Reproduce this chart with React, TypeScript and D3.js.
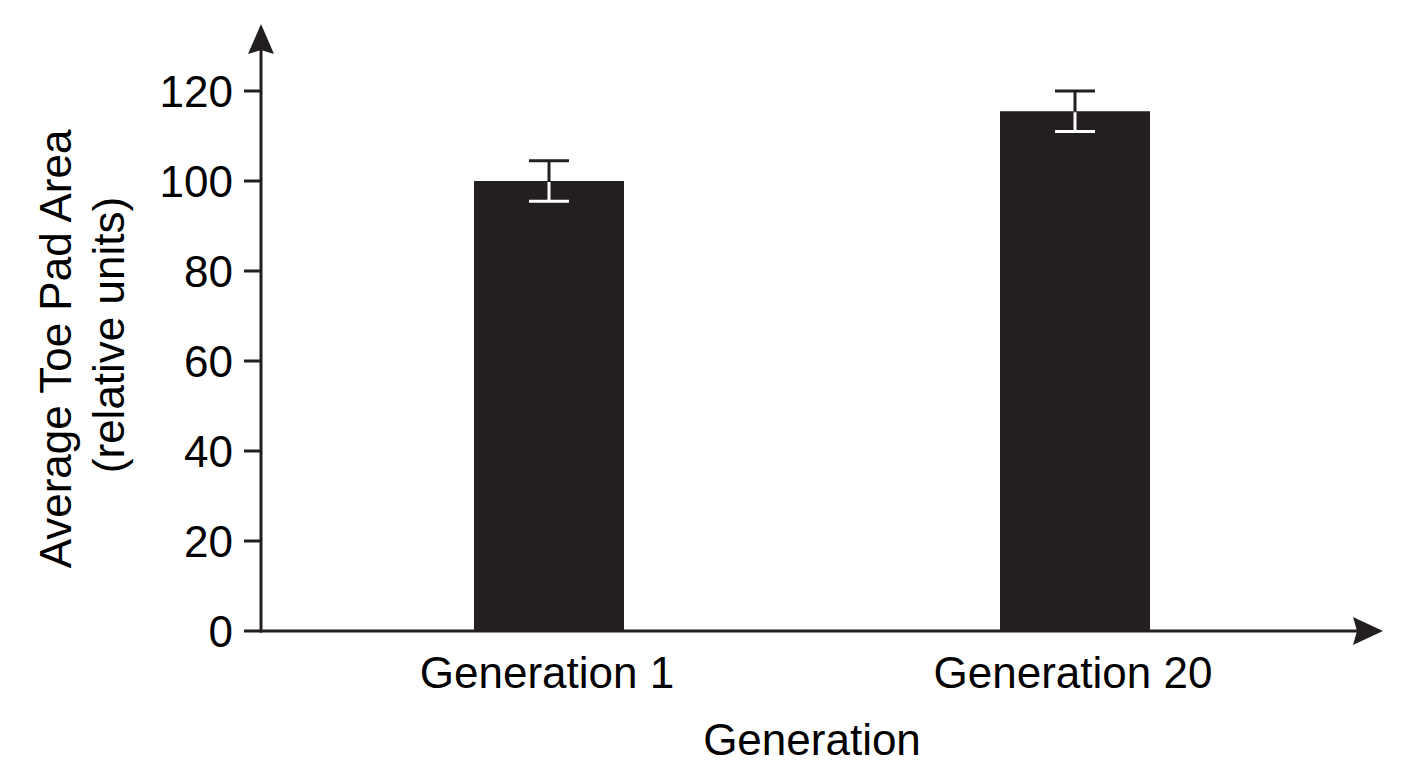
import {useEffect, useRef} from "react";
import * as d3 from 'd3';

const categories = ['Generation 1', 'Generation 20'];
const means = [100, 115.5];
const errors = [4.5, 4.5];
const yTicks = [0, 20, 40, 60, 80, 100, 120];

const INK = '#231f20';
const FONT = '"Liberation Sans", Arial, Helvetica, sans-serif';

const ToePadChart = ({ width, height }: { width: number; height: number }) => {
    const svgRef = useRef<SVGSVGElement | null>(null);

    useEffect(() => {
        const svg = d3.select(svgRef.current)
            .attr('width', width)
            .attr('height', height);
        svg.selectAll('*').remove();

        const axisX = 261;
        const y = d3.scaleLinear().domain([0, 120]).range([631, 91]);
        const x = d3.scaleBand<string>()
            .domain(categories)
            .range([286, 1338])
            .paddingInner(0.7148)
            .paddingOuter(0.3574);

        const rows = categories.map((c, i) => ({ label: c, mean: means[i], err: errors[i] }));

        // bars
        svg.selectAll('.bar')
            .data(rows)
            .enter()
            .append('rect')
            .attr('class', 'bar')
            .attr('x', d => x(d.label)!)
            .attr('width', x.bandwidth())
            .attr('y', d => y(d.mean))
            .attr('height', d => y(0) - y(d.mean))
            .attr('fill', INK);

        // error bars: dark above the bar top, white inside the bar
        const capHalf = 20;
        const cx = (d: { label: string }) => x(d.label)! + x.bandwidth() / 2;
        const eb = svg.selectAll('.err')
            .data(rows)
            .enter()
            .append('g')
            .attr('class', 'err')
            .attr('stroke-width', 3);
        eb.append('line')
            .attr('x1', cx).attr('x2', cx)
            .attr('y1', d => y(d.mean + d.err))
            .attr('y2', d => y(d.mean))
            .attr('stroke', INK);
        eb.append('line')
            .attr('x1', d => cx(d) - capHalf)
            .attr('x2', d => cx(d) + capHalf)
            .attr('y1', d => y(d.mean + d.err))
            .attr('y2', d => y(d.mean + d.err))
            .attr('stroke', INK);
        eb.append('line')
            .attr('x1', cx).attr('x2', cx)
            .attr('y1', d => y(d.mean) + 1)
            .attr('y2', d => y(d.mean - d.err))
            .attr('stroke', '#ffffff');
        eb.append('line')
            .attr('x1', d => cx(d) - capHalf)
            .attr('x2', d => cx(d) + capHalf)
            .attr('y1', d => y(d.mean - d.err))
            .attr('y2', d => y(d.mean - d.err))
            .attr('stroke', '#ffffff');

        // axes
        const axisTip = 24;
        const xEnd = 1383;
        svg.append('line')
            .attr('x1', axisX).attr('x2', axisX)
            .attr('y1', y(0) + 1.5).attr('y2', axisTip + 20)
            .attr('stroke', INK).attr('stroke-width', 3);
        svg.append('line')
            .attr('x1', axisX - 1.5).attr('x2', xEnd - 20)
            .attr('y1', y(0)).attr('y2', y(0))
            .attr('stroke', INK).attr('stroke-width', 3);

        // arrow heads
        svg.append('path')
            .attr('d', `M${axisX},${axisTip} L${axisX + 13},${axisTip + 30} L${axisX},${axisTip + 26} L${axisX - 13},${axisTip + 30} Z`)
            .attr('fill', INK);
        svg.append('path')
            .attr('d', `M${xEnd},${y(0)} L${xEnd - 30},${y(0) - 14} L${xEnd - 26},${y(0)} L${xEnd - 30},${y(0) + 14} Z`)
            .attr('fill', INK);

        // y ticks
        const ticks = svg.selectAll('.tick')
            .data(yTicks)
            .enter()
            .append('g')
            .attr('class', 'tick')
            .attr('transform', d => `translate(0,${y(d)})`);
        ticks.append('line')
            .attr('x1', axisX - 17).attr('x2', axisX)
            .attr('stroke', INK).attr('stroke-width', 3);
        ticks.append('text')
            .attr('x', axisX - 28)
            .attr('dy', '0.36em')
            .attr('text-anchor', 'end')
            .attr('font-family', FONT)
            .attr('font-size', 44)
            .attr('fill', '#000')
            .text(d => d);

        // category labels
        svg.selectAll('.cat')
            .data(categories)
            .enter()
            .append('text')
            .attr('class', 'cat')
            .attr('x', d => x(d)! + x.bandwidth() / 2 - 2)
            .attr('y', 688)
            .attr('text-anchor', 'middle')
            .attr('font-family', FONT)
            .attr('font-size', 44)
            .attr('fill', '#000')
            .text(d => d);

        // axis titles
        svg.append('text')
            .attr('x', 812)
            .attr('y', 755)
            .attr('text-anchor', 'middle')
            .attr('font-family', FONT)
            .attr('font-size', 44)
            .attr('fill', '#000')
            .text('Generation');

        svg.append('text')
            .attr('transform', 'translate(71,349) rotate(-90)')
            .attr('text-anchor', 'middle')
            .attr('font-family', FONT)
            .attr('font-size', 44)
            .attr('fill', '#000')
            .text('Average Toe Pad Area');
        svg.append('text')
            .attr('transform', 'translate(124,335) rotate(-90)')
            .attr('text-anchor', 'middle')
            .attr('font-family', FONT)
            .attr('font-size', 44)
            .attr('fill', '#000')
            .text('(relative units)');
    }, [width, height]);

    return <svg ref={svgRef} style={{ position: 'absolute', left: 0, top: 0, background: '#fff' }}></svg>;
};

export default function App() {
    return <ToePadChart width={1408} height={768} />;
}
